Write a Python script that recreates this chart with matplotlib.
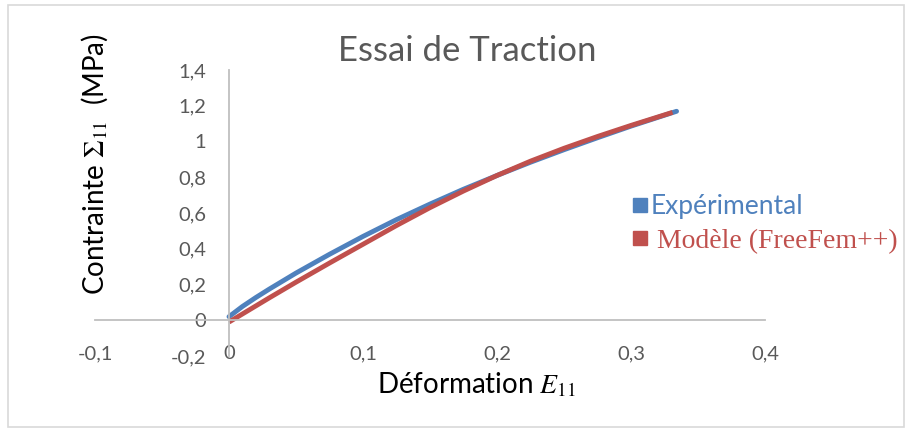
import matplotlib
matplotlib.use("Agg")
import matplotlib.pyplot as plt
from matplotlib.lines import Line2D
from matplotlib.patches import Rectangle

# Tensile test: measured curve and FreeFem++ model
strain_exp = [0, 0.01, 0.02, 0.03, 0.05, 0.075, 0.1, 0.125, 0.15, 0.175,
              0.2, 0.225, 0.25, 0.275, 0.3, 0.334]
stress_exp = [0.02, 0.077, 0.127, 0.174, 0.264, 0.369, 0.469, 0.563, 0.650, 0.733,
              0.810, 0.884, 0.954, 1.021, 1.086, 1.169]

strain_mod = [0, 0.01, 0.02, 0.03, 0.05, 0.075, 0.1, 0.125, 0.15, 0.175,
              0.2, 0.225, 0.25, 0.275, 0.3, 0.331]
stress_mod = [-0.01, 0.035, 0.08, 0.125, 0.213, 0.32, 0.425, 0.53, 0.63, 0.723,
              0.81, 0.89, 0.962, 1.028, 1.09, 1.163]

x_ticks = [-0.1, 0, 0.1, 0.2, 0.3, 0.4]
x_tick_labels = ["-0,1", "0", "0,1", "0,2", "0,3", "0,4"]
y_ticks = [-0.2, 0, 0.2, 0.4, 0.6, 0.8, 1.0, 1.2, 1.4]
y_tick_labels = ["-0,2", "0", "0,2", "0,4", "0,6", "0,8", "1", "1,2", "1,4"]

BLUE = "#4F81BD"
RED = "#C0504D"
AXIS_GREY = "#BFBFBF"
TEXT_GREY = "#595959"

plt.rcParams["font.family"] = ["Lato", "DejaVu Sans"]
plt.rcParams["mathtext.fontset"] = "stix"

W, H = 909, 430
fig = plt.figure(figsize=(W / 100, H / 100), dpi=100)

# chart frame
fig.add_artist(Rectangle((8 / W, 1 - 427 / H), (904 - 8) / W, (427 - 5) / H,
                         transform=fig.transFigure, fill=False,
                         edgecolor="#D9D9D9", linewidth=1.2))

ax = fig.add_axes([95 / W, 1 - 356 / H, (765 - 95) / W, (356 - 70) / H])
ax.set_xlim(-0.1, 0.4)
ax.set_ylim(-0.2, 1.4)

ax.plot(strain_exp, stress_exp, color=BLUE, linewidth=3.5,
        solid_capstyle="round", solid_joinstyle="round", label="Expérimental")
ax.plot(strain_mod, stress_mod, color=RED, linewidth=3.5,
        solid_capstyle="butt", solid_joinstyle="round", label="Modèle (FreeFem++)")

for side in ("top", "right"):
    ax.spines[side].set_visible(False)
ax.spines["left"].set_position(("data", 0))
ax.spines["bottom"].set_position(("data", 0))
for side in ("left", "bottom"):
    ax.spines[side].set_color(AXIS_GREY)
    ax.spines[side].set_linewidth(1.3)

ax.set_xticks(x_ticks)
ax.set_xticklabels(x_tick_labels)
ax.set_yticks(y_ticks)
ax.set_yticklabels(y_tick_labels)
ax.tick_params(axis="both", length=0, labelsize=14.5, labelcolor=TEXT_GREY)
ax.tick_params(axis="x", pad=18)
ax.tick_params(axis="y", pad=16.5)

ax.set_xlabel(r"Déformation $E_{11}$", fontsize=20, color="black", va="center")
ax.xaxis.set_label_coords(0.57, -0.10)
ax.set_ylabel(r"Contrainte $\Sigma_{11}$  (MPa)", fontsize=20, color="black",
              va="center", ha="center")
ax.yaxis.set_label_coords(0.0, 0.671)

fig.text(467 / W, 1 - 61 / H, "Essai de Traction", fontsize=25,
         color=TEXT_GREY, ha="center", va="baseline")

handles = [Line2D([], [], marker="s", linestyle="none", color=BLUE, markersize=10),
           Line2D([], [], marker="s", linestyle="none", color=RED, markersize=10)]
leg = ax.legend(handles, ["Expérimental", " Modèle (FreeFem++)"],
                loc="center left", bbox_to_anchor=(619 / W, 1 - 224 / H),
                bbox_transform=fig.transFigure, frameon=False,
                handlelength=0.6, handletextpad=0.08, labelspacing=0.35,
                borderpad=0, prop={"size": 19})
t_exp, t_mod = leg.get_texts()
t_exp.set_color(BLUE)
t_mod.set_color(RED)
t_mod.set_fontfamily("Liberation Serif")
t_mod.set_fontsize(20)

fig.savefig("out.png", dpi=100)
